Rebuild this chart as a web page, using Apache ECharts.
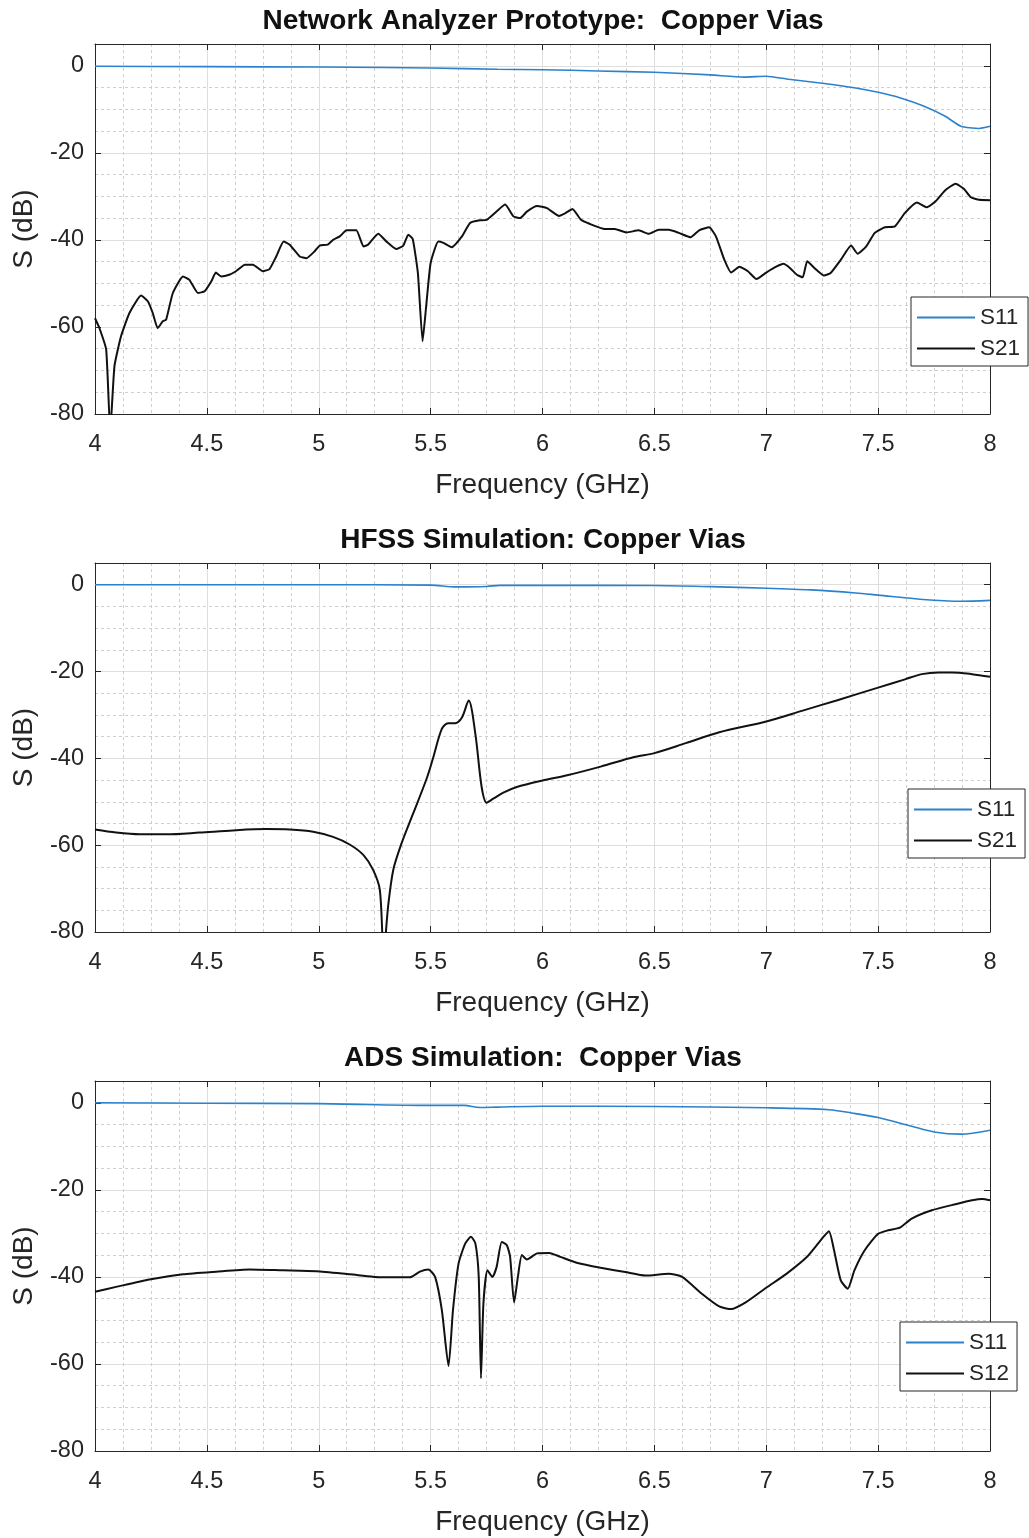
<!DOCTYPE html>
<html>
<head>
<meta charset="utf-8">
<script src="https://cdn.jsdelivr.net/npm/echarts@6/dist/echarts.min.js"></script>
<style>
  html, body { margin: 0; padding: 0; background: #fff; }
  #chart { width: 1029px; height: 1538px; }
</style>
</head>
<body>
<div id="chart"></div>
<script>
// panel titles and legend names
const titles = [
  'Network Analyzer Prototype:  Copper Vias',
  'HFSS Simulation: Copper Vias',
  'ADS Simulation:  Copper Vias'
]
const legendNames = [['S11', 'S21'], ['S11', 'S21'], ['S11', 'S12']]

// axis ranges / ticks
const freqMin = 4
const freqMax = 8
const freqStep = 0.5
const dbMin = -80
const dbMax = 5
const dbStep = 20

// [GHz, dB]
const naS11 = [[4.0, -0.1], [4.5, -0.2], [5.0, -0.3], [5.3, -0.4], [5.5, -0.5], [5.8, -0.8], [6.0, -0.9], [6.25, -1.2], [6.5, -1.5], [6.75, -2.1], [6.9, -2.6], [7.0, -2.4], [7.1, -3.1], [7.25, -4.0], [7.4, -5.1], [7.5, -6.1], [7.6, -7.4], [7.7, -9.2], [7.8, -11.6], [7.87, -13.9], [7.95, -14.4], [8.0, -13.9]]

const naS21 = [[4.0, -58.0], [4.02, -60.3], [4.05, -65.2], [4.068, -84], [4.087, -69], [4.116, -62.2], [4.154, -56.8], [4.206, -52.8], [4.236, -54.1], [4.258, -56.8], [4.28, -60.3], [4.303, -58.7], [4.318, -58.3], [4.348, -52.2], [4.393, -48.4], [4.422, -49.2], [4.46, -52.2], [4.49, -51.8], [4.52, -49.5], [4.54, -47.5], [4.564, -48.4], [4.6, -48.0], [4.63, -47.2], [4.67, -45.7], [4.706, -45.7], [4.75, -47.2], [4.78, -46.7], [4.81, -43.8], [4.843, -40.4], [4.87, -41.1], [4.915, -43.8], [4.945, -44.2], [4.982, -42.6], [5.004, -41.3], [5.04, -41.1], [5.064, -40.0], [5.094, -39.2], [5.124, -37.8], [5.168, -37.8], [5.2, -41.5], [5.22, -41.1], [5.266, -38.6], [5.303, -40.4], [5.346, -42.1], [5.378, -41.3], [5.4, -38.8], [5.42, -39.8], [5.443, -47.6], [5.464, -63.3], [5.48, -55.3], [5.5, -45.3], [5.534, -40.4], [5.557, -40.7], [5.594, -41.7], [5.64, -39.2], [5.676, -36.1], [5.72, -35.5], [5.75, -35.4], [5.796, -33.4], [5.833, -31.9], [5.87, -34.6], [5.9, -35.0], [5.93, -33.5], [5.976, -32.2], [6.02, -32.7], [6.074, -34.5], [6.104, -33.8], [6.134, -32.9], [6.172, -35.4], [6.21, -36.3], [6.278, -37.5], [6.323, -37.5], [6.376, -38.3], [6.43, -37.8], [6.474, -38.6], [6.52, -37.7], [6.564, -37.7], [6.61, -38.4], [6.662, -39.4], [6.7, -37.8], [6.745, -37.1], [6.775, -39.2], [6.813, -44.6], [6.843, -47.5], [6.88, -46.2], [6.918, -47.2], [6.956, -49.0], [7.0, -47.5], [7.047, -46.1], [7.077, -45.5], [7.107, -46.5], [7.137, -48.0], [7.163, -48.6], [7.183, -44.9], [7.22, -46.7], [7.258, -48.2], [7.288, -47.6], [7.333, -44.6], [7.379, -41.3], [7.409, -43.2], [7.447, -41.5], [7.485, -38.4], [7.53, -37.1], [7.575, -36.9], [7.62, -33.8], [7.673, -31.4], [7.718, -32.5], [7.756, -31.2], [7.8, -28.6], [7.846, -27.1], [7.884, -28.3], [7.914, -30.2], [7.952, -30.8], [8.0, -30.9]]

const hfssS11 = [[4.0, 0], [5.0, 0], [5.5, -0.1], [5.61, -0.5], [5.75, -0.4], [5.81, -0.15], [6.0, -0.15], [6.5, -0.2], [6.75, -0.45], [7.0, -0.8], [7.2, -1.2], [7.4, -1.9], [7.5, -2.4], [7.7, -3.4], [7.87, -3.8], [8.0, -3.6]]

const hfssS21 = [[4.0, -56.4], [4.094, -57.1], [4.2, -57.5], [4.32, -57.5], [4.467, -57.1], [4.616, -56.6], [4.766, -56.3], [4.87, -56.4], [4.975, -56.9], [5.064, -58.1], [5.14, -59.9], [5.2, -62.3], [5.243, -65.7], [5.273, -70.3], [5.29, -85], [5.31, -74.1], [5.333, -65.7], [5.37, -59.6], [5.422, -52.7], [5.482, -44.7], [5.51, -40.1], [5.55, -33.2], [5.578, -31.9], [5.61, -31.9], [5.64, -30.6], [5.67, -26.7], [5.7, -34.4], [5.728, -46.6], [5.75, -50.2], [5.78, -49.3], [5.825, -47.9], [5.885, -46.6], [6.0, -45.1], [6.11, -43.9], [6.26, -41.9], [6.41, -39.7], [6.5, -38.8], [6.64, -36.5], [6.79, -34.0], [7.0, -31.5], [7.163, -29.0], [7.318, -26.6], [7.5, -23.7], [7.62, -21.8], [7.695, -20.6], [7.77, -20.2], [7.83, -20.2], [7.92, -20.6], [8.0, -21.2]]

const adsS11 = [[4.0, 0], [4.5, -0.1], [5.0, -0.2], [5.5, -0.6], [5.65, -0.6], [5.72, -1.1], [5.8, -1.0], [6.0, -0.8], [6.5, -0.85], [7.0, -1.15], [7.28, -1.6], [7.4, -2.5], [7.5, -3.4], [7.65, -5.4], [7.75, -6.7], [7.87, -7.2], [8.0, -6.3]]

const adsS12 = [[4.0, -43.4], [4.094, -42.3], [4.243, -40.6], [4.393, -39.4], [4.542, -38.8], [4.69, -38.3], [4.84, -38.5], [4.99, -38.7], [5.14, -39.4], [5.288, -40.1], [5.407, -40.1], [5.452, -38.8], [5.49, -38.3], [5.52, -40.0], [5.55, -47.6], [5.58, -60.5], [5.6, -47.6], [5.625, -36.9], [5.655, -32.3], [5.68, -30.8], [5.7, -32.3], [5.715, -40], [5.725, -63.3], [5.736, -46.1], [5.754, -38.5], [5.776, -40.0], [5.795, -37.7], [5.818, -32.0], [5.84, -32.7], [5.855, -35.3], [5.873, -45.9], [5.89, -40.0], [5.908, -35.0], [5.93, -36.0], [5.976, -34.6], [6.03, -34.5], [6.08, -35.4], [6.157, -36.8], [6.26, -37.9], [6.37, -38.9], [6.46, -39.7], [6.564, -39.3], [6.624, -40.0], [6.715, -44.0], [6.79, -46.8], [6.843, -47.4], [6.91, -45.8], [7.0, -42.5], [7.09, -39.3], [7.18, -35.5], [7.243, -31.6], [7.28, -29.5], [7.303, -33.9], [7.333, -40.8], [7.364, -42.7], [7.394, -38.5], [7.44, -33.9], [7.5, -30.1], [7.545, -29.3], [7.597, -28.7], [7.65, -26.6], [7.74, -24.7], [7.846, -23.3], [7.92, -22.4], [7.966, -22.1], [8.0, -22.4]]

const panelData = [[naS11, naS21], [hfssS11, hfssS21], [adsS11, adsS12]]
const smoothness = [[0.2, 0.15], [0.3, 0.3], [0.3, 0.2]]

// layout (pixels)
const gridTops = [44, 563, 1081]
const gridHeights = [370, 369, 370]
const legendPos = [[911, 297], [908, 789], [900, 1322]]

const axisColor = '#262626'
const blue = '#2b82cc'
const font = 'Liberation Sans, Arial, Helvetica, sans-serif'

const chart = echarts.init(document.getElementById('chart'))

const grid = []
const xAxis = []
const yAxis = []
const series = []
const legend = []
const title = []

for (let i = 0; i < 3; i++) {
  grid.push({ left: 95, width: 895, top: gridTops[i], height: gridHeights[i] })

  title.push({
    text: titles[i],
    left: 543,
    top: gridTops[i] - 37,
    textAlign: 'center',
    padding: 0,
    textStyle: { fontFamily: font, fontSize: 28, fontWeight: 'bold', color: '#111' },
  })

  // bottom x axis (labels, grid)
  xAxis.push({
    type: 'value', gridIndex: i, min: freqMin, max: freqMax, interval: freqStep,
    name: 'Frequency (GHz)', nameLocation: 'middle', nameGap: 57,
    nameTextStyle: { fontFamily: font, fontSize: 28, color: axisColor },
    axisLine: { onZero: false, lineStyle: { color: axisColor, width: 1 } },
    axisTick: { inside: true, length: 6, lineStyle: { color: axisColor } },
    axisLabel: { margin: 19, fontFamily: font, fontSize: 23.5, color: axisColor },
    splitLine: { show: true, lineStyle: { color: '#dedede', width: 1 } },
    minorTick: { show: false, splitNumber: 4 },
    minorSplitLine: { show: true, lineStyle: { color: '#cfcfcf', width: 1, type: [3, 3] } },
    z: 1,
  })
  // top x axis (box + ticks)
  xAxis.push({
    type: 'value', gridIndex: i, position: 'top', min: freqMin, max: freqMax, interval: freqStep,
    axisLine: { onZero: false, lineStyle: { color: axisColor, width: 1 } },
    axisTick: { inside: true, length: 6, lineStyle: { color: axisColor } },
    axisLabel: { show: false },
    splitLine: { show: false },
    z: 2,
  })

  // left y axis (labels, major grid)
  yAxis.push({
    type: 'value', gridIndex: i, min: dbMin, max: dbMax, interval: dbStep,
    name: 'S (dB)', nameLocation: 'middle', nameGap: 57,
    nameTextStyle: { fontFamily: font, fontSize: 28, color: axisColor },
    axisLine: { show: true, onZero: false, lineStyle: { color: axisColor, width: 1 } },
    axisTick: { show: true, inside: true, length: 6, lineStyle: { color: axisColor } },
    axisLabel: { margin: 11, fontFamily: font, fontSize: 23.5, color: axisColor, showMaxLabel: false },
    splitLine: { show: true, lineStyle: { color: '#dedede', width: 1 } },
    z: 1,
  })
  // minor y grid
  yAxis.push({
    type: 'value', gridIndex: i, min: dbMin, max: dbMax, interval: 5,
    axisLine: { show: false }, axisTick: { show: false }, axisLabel: { show: false },
    splitLine: { show: true, lineStyle: { color: '#cfcfcf', width: 1, type: [3, 3] } },
    z: 0,
  })
  // right y axis (box + ticks)
  yAxis.push({
    type: 'value', gridIndex: i, position: 'right', min: dbMin, max: dbMax, interval: dbStep,
    axisLine: { show: true, onZero: false, lineStyle: { color: axisColor, width: 1 } },
    axisTick: { show: true, inside: true, length: 6, lineStyle: { color: axisColor } },
    axisLabel: { show: false },
    splitLine: { show: false },
    z: 2,
  })

  const colors = [blue, '#111111']
  const widths = [1.6, 2]
  for (let k = 0; k < 2; k++) {
    series.push({
      name: legendNames[i][k],
      type: 'line',
      xAxisIndex: i * 2,
      yAxisIndex: i * 3,
      data: panelData[i][k],
      symbol: 'none',
      showSymbol: false,
      smooth: smoothness[i][k],
      clip: true,
      color: colors[k],
      lineStyle: { color: colors[k], width: widths[k] },
      z: 5,
    })
  }

  legend.push({
    data: legendNames[i],
    orient: 'vertical',
    left: legendPos[i][0],
    top: legendPos[i][1],
    padding: [9, 8, 6, 6],
    itemGap: 8,
    icon: 'rect',
    itemWidth: 58,
    itemHeight: 2,
    backgroundColor: '#fff',
    borderColor: axisColor,
    borderWidth: 1,
    borderRadius: 0,
    selectedMode: false,
    textStyle: { fontFamily: font, fontSize: 22.5, color: axisColor },
  })
}

chart.setOption({
  backgroundColor: '#fff',
  animation: false,
  title,
  grid,
  xAxis,
  yAxis,
  legend,
  series,
})
</script>
</body>
</html>
